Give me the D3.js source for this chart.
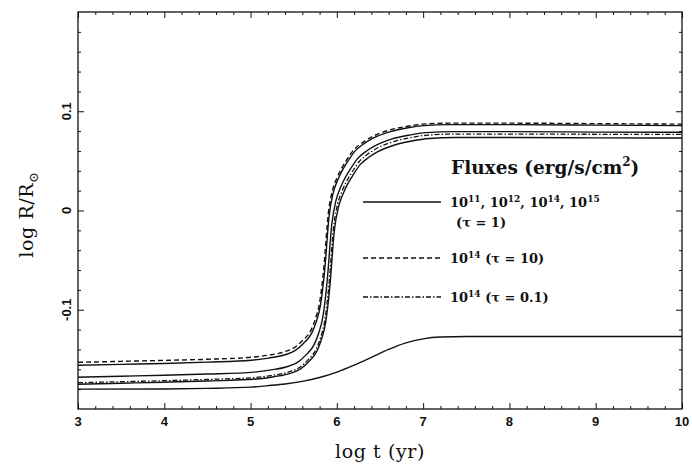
<!DOCTYPE html>
<html><head><meta charset="utf-8">
<script src="https://cdn.jsdelivr.net/npm/d3@7"></script>
<style>body{margin:0;background:#fff}svg{display:block}</style>
</head><body>
<svg id="c" width="692" height="464"></svg>
<script>
// ---- data ----
const xTicks = [3,4,5,6,7,8,9,10];
const yTicks = [-0.1,0,0.1];
const yTickLabels = ["-0.1","0","0.1"];

const tDashed = [3,3.5,4,4.5,5,5.2,5.4,5.5,5.6,5.7,5.75,5.8,5.85,5.9,5.95,6.0,6.05,6.1,6.2,6.3,6.4,6.6,6.8,7.0,7.3,8,9,10];
const rDashed = [-0.153,-0.152,-0.151,-0.1499,-0.1479,-0.1458,-0.1422,-0.1385,-0.1313,-0.1205,-0.1096,-0.0928,-0.0566,-0.0036,0.0205,0.0326,0.0417,0.049,0.0615,0.0687,0.074,0.0808,0.0846,0.087,0.088,0.088,0.0875,0.087];

const tSolidA = [3,3.5,4,4.5,5.01,5.21,5.41,5.51,5.61,5.71,5.76,5.81,5.86,5.91,5.96,6.01,6.06,6.11,6.21,6.31,6.41,6.61,6.81,7.01,7.31,8,9,10];
const rSolidA = [-0.156,-0.155,-0.1541,-0.1528,-0.1509,-0.1487,-0.1451,-0.1415,-0.1342,-0.1233,-0.1124,-0.0954,-0.059,-0.0057,0.0186,0.0307,0.0399,0.0472,0.0598,0.0671,0.0724,0.0792,0.0831,0.0855,0.0865,0.0865,0.086,0.0855];

const tSolidB = [3,3.5,4,4.5,5.04,5.24,5.44,5.54,5.64,5.74,5.79,5.84,5.89,5.94,5.99,6.04,6.09,6.14,6.24,6.34,6.44,6.64,6.84,7.04,7.34,8,9,10];
const rSolidB = [-0.168,-0.167,-0.166,-0.1648,-0.1628,-0.1606,-0.1569,-0.1532,-0.1457,-0.1346,-0.1235,-0.1061,-0.069,-0.0146,0.0102,0.0226,0.032,0.0394,0.0523,0.0597,0.0651,0.0721,0.076,0.0785,0.0795,0.0795,0.079,0.0788];

const tDotDash = [3,3.5,4,4.5,5.06,5.26,5.46,5.56,5.66,5.76,5.81,5.86,5.91,5.96,6.01,6.06,6.11,6.16,6.26,6.36,6.46,6.66,6.86,7.06,7.36,8,9,10];
const rDotDash = [-0.1735,-0.1725,-0.1715,-0.1702,-0.1682,-0.166,-0.1622,-0.1585,-0.151,-0.1397,-0.1284,-0.1109,-0.0733,-0.0182,0.0069,0.0194,0.029,0.0364,0.0494,0.057,0.0625,0.0695,0.0735,0.076,0.077,0.077,0.0768,0.0766];

const tSolidC = [3,3.5,4,4.5,5.07,5.27,5.47,5.57,5.67,5.77,5.82,5.87,5.92,5.97,6.02,6.07,6.12,6.17,6.27,6.37,6.47,6.67,6.87,7.07,7.37,8,9,10];
const rSolidC = [-0.175,-0.174,-0.173,-0.1718,-0.1698,-0.1675,-0.1638,-0.1601,-0.1526,-0.1415,-0.1303,-0.1129,-0.0756,-0.0209,0.0039,0.0163,0.0258,0.0332,0.0462,0.0536,0.0591,0.066,0.07,0.0725,0.0735,0.0735,0.0732,0.073];

const tSolidD = [3,4,4.5,5,5.2,5.4,5.6,5.8,6.0,6.2,6.4,6.6,6.8,7.0,7.2,7.5,8,10];
const rSolidD = [-0.180,-0.1798,-0.1792,-0.1780,-0.1765,-0.1748,-0.1722,-0.1683,-0.1628,-0.1558,-0.1480,-0.1400,-0.1334,-0.1293,-0.1275,-0.1270,-0.1270,-0.1270];

// ---- chart ----
const svg = d3.select("#c");
const L = 78, R = 682, T = 12, B = 409;
const x = d3.scaleLinear().domain([3,10]).range([L,R]);
const y = d3.scaleLinear().domain([-0.2,0.2]).range([B,T]);
const ink = "#111";

const styles = {
  solid: {dash:null, w:1.4},
  dashed: {dash:"5,3", w:1.4},
  dotdash: {dash:"5,2,1.5,2", w:1.3}
};

const series = [
  {t:tSolidD, r:rSolidD, s:"solid"},
  {t:tSolidC, r:rSolidC, s:"solid"},
  {t:tDotDash, r:rDotDash, s:"dotdash"},
  {t:tSolidB, r:rSolidB, s:"solid"},
  {t:tSolidA, r:rSolidA, s:"solid"},
  {t:tDashed, r:rDashed, s:"dashed"}
];

const line = d3.line().x(d=>x(d[0])).y(d=>y(d[1])).curve(d3.curveMonotoneX);
const g = svg.append("g");
series.forEach(sr=>{
  const pts = sr.t.map((t,i)=>[t, sr.r[i]]);
  g.append("path").attr("d", line(pts)).attr("fill","none")
    .attr("stroke", ink).attr("stroke-width", styles[sr.s].w)
    .attr("stroke-dasharray", styles[sr.s].dash);
});

// axes with inward ticks
const xMinor = d3.range(3,10.001,0.2).filter(v=>Math.abs(v-Math.round(v))>1e-6);
const yMinor = d3.range(-0.2,0.2001,0.02).filter(v=>Math.abs(v*10-Math.round(v*10))>1e-6);

function tickAxis(axisGen, transform, major, minor, majorLen, minorLen) {
  svg.append("g").attr("transform", transform)
    .call(axisGen.tickValues(major).tickSize(majorLen).tickFormat(""))
    .call(a=>a.select(".domain").remove())
    .selectAll("line").attr("stroke", ink).attr("stroke-width",1);
  svg.append("g").attr("transform", transform)
    .call(axisGen.tickValues(minor).tickSize(minorLen).tickFormat(""))
    .call(a=>a.select(".domain").remove())
    .selectAll("line").attr("stroke", ink).attr("stroke-width",1);
}
tickAxis(d3.axisTop(x), `translate(0,${B})`, xTicks, xMinor, 6, 3);
tickAxis(d3.axisBottom(x), `translate(0,${T})`, xTicks, xMinor, 6, 3);
tickAxis(d3.axisRight(y), `translate(${L},0)`, yTicks, yMinor, 6, 3);
tickAxis(d3.axisLeft(y), `translate(${R},0)`, yTicks, yMinor, 6, 3);

svg.append("rect").attr("x",L).attr("y",T).attr("width",R-L).attr("height",B-T)
  .attr("fill","none").attr("stroke",ink).attr("stroke-width",1.3);

// tick labels
const tickFont = "'Liberation Sans', Arial, sans-serif";
svg.append("g").selectAll("text").data(xTicks).join("text")
  .attr("x", d=>x(d)).attr("y", B+17).attr("text-anchor","middle")
  .attr("font-family", tickFont).attr("font-weight","bold").attr("font-size",13)
  .attr("fill",ink).text(d=>d);
svg.append("g").selectAll("text").data(yTicks).join("text")
  .attr("transform", d=>`translate(${L-7},${y(d)}) rotate(-90)`)
  .attr("text-anchor","middle")
  .attr("font-family", tickFont).attr("font-weight","bold").attr("font-size",13)
  .attr("fill",ink).text((d,i)=>yTickLabels[i]);

// axis titles
const serif = "'DejaVu Serif', 'Liberation Serif', serif";
svg.append("text").attr("x",(L+R)/2).attr("y",458).attr("text-anchor","middle")
  .attr("font-family",serif).attr("font-size",19).attr("letter-spacing",0.6)
  .attr("fill",ink).text("log t (yr)");
const yt = svg.append("text").attr("transform",`translate(33,${(T+B)/2 + 4}) rotate(-90)`)
  .attr("text-anchor","middle").attr("font-family",serif).attr("font-size",19)
  .attr("letter-spacing",0.6).attr("fill",ink);
yt.append("tspan").text("log R/R");
yt.append("tspan").attr("dy",5).attr("font-size",13).text("\u2299");

// legend
const lg = svg.append("g").attr("font-family",serif).attr("font-weight","bold").attr("fill",ink);
const title = lg.append("text").attr("x",451).attr("y",174).attr("font-size",18.5);
title.append("tspan").text("Fluxes (erg/s/cm");
title.append("tspan").attr("dy",-8).attr("font-size",12).text("2");
title.append("tspan").attr("dy",8).text(")");

function sup(textSel, base, exp, after){
  textSel.append("tspan").text(base);
  textSel.append("tspan").attr("dy",-5).attr("font-size",9).text(exp);
  textSel.append("tspan").attr("dy",5).text(after);
}
const legendRows = [
  {s:"solid", yy:202},
  {s:"dashed", yy:258},
  {s:"dotdash", yy:297}
];
legendRows.forEach(r=>{
  lg.append("line").attr("x1",363).attr("x2",441).attr("y1",r.yy).attr("y2",r.yy)
    .attr("stroke",ink).attr("stroke-width",styles[r.s].w).attr("stroke-dasharray",styles[r.s].dash);
});
const t1 = lg.append("text").attr("x",450).attr("y",207).attr("font-size",13);
sup(t1,"10","11",", "); sup(t1,"10","12",", "); sup(t1,"10","14",", "); sup(t1,"10","15","");
lg.append("text").attr("x",456).attr("y",227).attr("font-size",13).text("(\u03C4 = 1)");
const t2 = lg.append("text").attr("x",450).attr("y",263).attr("font-size",13);
sup(t2,"10","14"," (\u03C4 = 10)");
const t3 = lg.append("text").attr("x",450).attr("y",302).attr("font-size",13);
sup(t3,"10","14"," (\u03C4 = 0.1)");
</script>
</body></html>
